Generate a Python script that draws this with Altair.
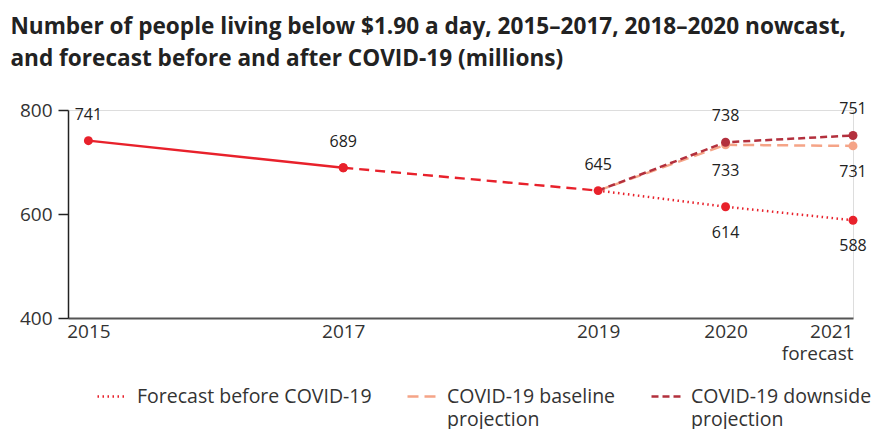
import altair as alt
import pandas as pd

# ---- data ----
est_years = [2015, 2017]
est_values = [741, 689]
now_years = [2017, 2019]
now_values = [689, 645]
fc_years = [2019, 2020, 2021]
pre_covid = [645, 614, 588]
baseline = [645, 733, 731]
downside = [645, 738, 751]

series_names = ["Forecast before COVID-19", "COVID-19 baseline projection", "COVID-19 downside projection"]
series_colors = ["#e8212b", "#f5a487", "#b3303d"]
series_dash = [[1.5, 3.5], [11, 6], [7, 4]]

x_ticks = [2015, 2017, 2019, 2020, 2021]
y_ticks = [400, 600, 800]

# labels: (year, value, placement)
label_years = [2015, 2017, 2019, 2020, 2020, 2020, 2021, 2021, 2021]
label_values = [741, 689, 645, 738, 733, 614, 751, 731, 588]
label_place = ["above", "above", "above", "above", "below", "below", "above", "below", "below"]

title_lines = [
    "Number of people living below $1.90 a day, 2015\u20132017, 2018\u20132020 nowcast,",
    "and forecast before and after COVID-19 (millions)",
]

# ---- tables ----
rows = []
for y, v in zip(est_years, est_values):
    rows.append({"year": y, "value": v, "series": "Estimate"})
for y, v in zip(now_years, now_values):
    rows.append({"year": y, "value": v, "series": "Nowcast"})
for name, vals in zip(series_names, [pre_covid, baseline, downside]):
    for y, v in zip(fc_years, vals):
        rows.append({"year": y, "value": v, "series": name})
df = pd.DataFrame(rows)
labels = pd.DataFrame({"year": label_years, "value": label_values, "place": label_place})

FONT = "Open Sans"
RED = series_colors[0]

x = alt.X(
    "year:Q",
    scale=alt.Scale(domain=[2014.84, 2021], nice=False, zero=False),
    axis=alt.Axis(
        values=x_ticks, format="d", title=None, grid=False, ticks=False,
        domainColor="#555", domainWidth=2, labelFont=FONT, labelFontSize=19,
        labelColor="#333", labelPadding=4, labelLineHeight=22,
        labelExpr="datum.value == 2021 ? ['2021', 'forecast'] : datum.label",
    ),
)
y = alt.Y(
    "value:Q",
    scale=alt.Scale(domain=[400, 800], nice=False, zero=False),
    axis=alt.Axis(
        values=y_ticks, title=None, grid=False, tickSize=10, tickColor="#222",
        domainColor="#222", domainWidth=1.5, tickWidth=1.5, labelFont=FONT,
        labelFontSize=19, labelColor="#333", labelPadding=6,
    ),
)

base = alt.Chart(df)

est_line = base.transform_filter(alt.datum.series == "Estimate").mark_line(
    color=RED, strokeWidth=2.4).encode(x=x, y=y)
now_line = base.transform_filter(alt.datum.series == "Nowcast").mark_line(
    color=RED, strokeWidth=2.4, strokeDash=[10, 6]).encode(x=x, y=y)

color_scale = alt.Scale(domain=series_names, range=series_colors)
fc_line = base.transform_filter(
    alt.FieldOneOfPredicate(field="series", oneOf=series_names)
).mark_line(strokeWidth=2.5).encode(
    x=x, y=y,
    color=alt.Color(
        "series:N", scale=color_scale, sort=series_names,
        legend=alt.Legend(
            title=None, orient="none", legendX=28, legendY=270, direction="horizontal",
            symbolType="stroke", symbolSize=900, symbolStrokeWidth=2.5,
            labelFont=FONT, labelFontSize=19.5, labelColor="#333", labelOffset=8,
            columnPadding=30, labelLimit=300, labelBaseline="middle",
            labelExpr="indexof(datum.label, ' projection') > 0 ? [replace(datum.label, ' projection', ''), 'projection'] : [datum.label, ' ']",
        ),
    ),
    strokeDash=alt.StrokeDash("series:N", scale=alt.Scale(domain=series_names, range=series_dash),
                              sort=series_names),
)

red_pts = base.transform_filter(
    alt.FieldOneOfPredicate(field="series", oneOf=["Estimate", "Nowcast"])
).mark_circle(size=80, opacity=1, color=RED).encode(x=x, y=y)

fc_pts = base.transform_filter(
    alt.FieldOneOfPredicate(field="series", oneOf=series_names)
).transform_filter(alt.datum.year > 2019).mark_circle(size=80, opacity=1).encode(
    x=x, y=y, color=alt.Color("series:N", scale=color_scale, legend=None),
)

lab = alt.Chart(labels)
text_kw = dict(font=FONT, fontSize=16, color="#222", baseline="middle")
lab_above = lab.transform_filter(alt.datum.place == "above").mark_text(dy=-26, **text_kw).encode(
    x=x, y=y, text="value:Q")
lab_below = lab.transform_filter(alt.datum.place == "below").mark_text(dy=26, **text_kw).encode(
    x=x, y=y, text="value:Q")

chart = alt.layer(
    fc_line, est_line, now_line, red_pts, fc_pts, lab_above, lab_below
).properties(
    width=785, height=208,
    title=alt.TitleParams(
        text=title_lines, anchor="start", font=FONT, fontSize=22.6, fontWeight="bold",
        color="#222", dx=-9, lineHeight=32, offset=30,
    ),
    autosize=alt.AutoSizeParams(type="none"),
    padding={"left": 60, "top": 102, "right": 31, "bottom": 111},
).configure_view(stroke=None).configure(
    style={"guide-label": {"lineHeight": 23}}
)

chart.save("out.html", embed_options={"renderer": "svg", "actions": False})
